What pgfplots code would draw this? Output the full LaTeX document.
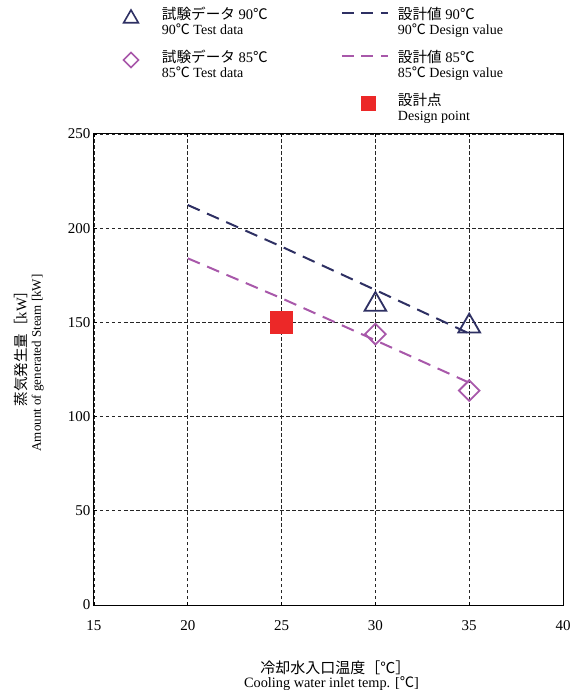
\documentclass[border=0pt]{standalone}
\usepackage{fontspec}
\setmainfont{Liberation Serif}
\newfontfamily\cjk{Noto Sans CJK JP}
\usepackage{pgfplots}
\pgfplotsset{compat=1.18}
\definecolor{navy}{RGB}{46,48,99}
\definecolor{purp}{RGB}{168,88,170}
\definecolor{dred}{RGB}{236,40,40}
\newcommand\jp[1]{{\cjk #1}}
\newcommand\dc{{\cjk ℃}}
\newcommand\lent[3]{\parbox[t]{#1}{\fontsize{14.6}{15}\selectfont\rule{0pt}{13pt}#2\\{\fontsize{14}{15}\selectfont #3}\rule[-4pt]{0pt}{4pt}}}
\pgfplotsset{
 legtri/.style={legend image code/.code={\draw[##1,overlay] plot coordinates {(0pt,1pt)}; \path[draw=none,fill=none] (-15pt,0pt) -- (31pt,0pt);}},
 legdia/.style={legend image code/.code={\draw[##1,overlay] plot coordinates {(0pt,2.5pt)}; \path[draw=none,fill=none] (-15pt,0pt) -- (31pt,0pt);}},
 legline/.style={legend image code/.code={\draw[##1,overlay] (0pt,6pt) -- (46pt,6pt); \path[draw=none,fill=none] (0pt,0pt) -- (56pt,0pt);}},
 legsq/.style={legend image code/.code={\draw[##1,overlay] plot coordinates {(26pt,2.5pt)}; \path[draw=none,fill=none] (0pt,0pt) -- (56pt,0pt);}},
}
\begin{document}
\begin{tikzpicture}
\begin{axis}[
 name=ax,
 scale only axis, width=469pt, height=471pt,
 xmin=15, xmax=40, ymin=0, ymax=250,
 xtick={15,20,...,40}, ytick={0,50,...,250},
 grid=major,
 major grid style={black!85, line width=0.8pt, dash pattern=on 3.5pt off 2.5pt},
 axis line style={black, line width=1pt},
 tick style={black, line width=0.8pt},
 major tick length=3pt,
 tick align=inside,
 /pgf/number format/assume math mode=true,
 tick label style={font=\fontsize{15}{18}\selectfont},
 xticklabel style={yshift=-12pt},
 xlabel={{\fontsize{15}{13.5}\selectfont\hspace*{8pt}\jp{冷却水入口温度［℃］}}\\{\fontsize{14.3}{13.5}\selectfont Cooling water inlet temp. [\dc]}},
 ylabel={{\fontsize{14.5}{14.5}\selectfont\hspace*{36pt}\jp{蒸気発生量［}kW\jp{］}}\\{\fontsize{13}{14.5}\selectfont Amount of generated Steam [kW]}},
 every axis x label/.style={at={(axis description cs:0.5064,-0.119)}, anchor=north, align=center, inner sep=0pt, font=\fontsize{13}{13.5}\selectfont},
 every axis y label/.style={at={(axis description cs:-0.1066,0.5138)}, rotate=90, anchor=south, align=center, inner sep=0pt, font=\fontsize{13}{14.5}\selectfont},
 legend columns=2,
 legend style={at={(axis description cs:0.0469,1.2707)}, anchor=north west, draw=none, fill=none,
   inner sep=0pt, outer sep=0pt, column sep=0pt, row sep=11pt,
   cells={anchor=base west}, nodes={inner sep=0pt, text depth=}},
]
\addplot[navy, line width=2pt, dash pattern=on 13pt off 8pt, forget plot] coordinates {(20,212.3) (25,190.2) (30,167.2) (35,144.1)};
\addplot[purp, line width=2pt, dash pattern=on 13pt off 8pt, forget plot] coordinates {(20,184) (25,162.8) (30,140.5) (35,118)};
\addplot[only marks, navy, mark=triangle, mark size=12.5pt, line width=1.8pt, forget plot] coordinates {(30,159.5) (35,148)};
\addplot[only marks, purp, mark=square, mark options={rotate=45}, mark size=7.3pt, line width=1.8pt, forget plot] coordinates {(30,143.8) (35,113.8)};
\addplot[only marks, dred, mark=square*, mark size=11pt, forget plot] coordinates {(25,150)};

\addlegendimage{navy, only marks, mark=triangle, mark size=8.5pt, line width=1.6pt, legtri}
\addlegendentry{\lent{180pt}{\jp{試験データ} 90\dc}{90\dc\ Test data}}
\addlegendimage{navy, line width=2pt, dash pattern=on 12pt off 7.5pt, legline}
\addlegendentry{\lent{150pt}{\jp{設計値} 90\dc}{90\dc\ Design value}}
\addlegendimage{purp, only marks, mark=square, mark options={rotate=45}, mark size=5.3pt, line width=1.6pt, legdia}
\addlegendentry{\lent{180pt}{\jp{試験データ} 85\dc}{85\dc\ Test data}}
\addlegendimage{purp, line width=2pt, dash pattern=on 12pt off 7.5pt, legline}
\addlegendentry{\lent{150pt}{\jp{設計値} 85\dc}{85\dc\ Design value}}
\addlegendimage{empty legend}
\addlegendentry{}
\addlegendimage{dred, only marks, mark=square*, mark size=7pt, legsq}
\addlegendentry{\lent{150pt}{\jp{設計点}}{Design point}}
\end{axis}
\path (ax.south west) ++(-94pt,-85pt) coordinate (bl);
\path (ax.north east) ++(9pt,134pt) coordinate (tr);
\pgfresetboundingbox
\path[use as bounding box] (bl) rectangle (tr);
\end{tikzpicture}
\end{document}
